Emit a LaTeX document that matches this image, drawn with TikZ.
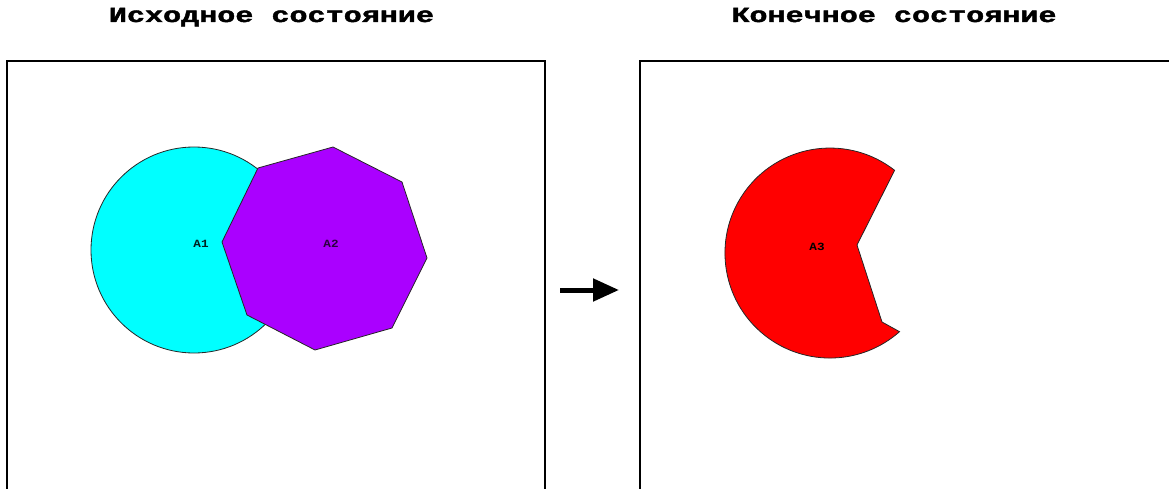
\documentclass[tikz,border=0pt]{standalone}
\usepackage{fontspec}
\setmonofont{Liberation Mono}
\newfontfamily\titlefont[FakeStretch=1.4,FakeBold=2]{Liberation Mono Bold}
\newfontfamily\labelfont[FakeStretch=1.15]{Liberation Mono Bold}
\usetikzlibrary{arrows.meta}
\definecolor{acyan}{RGB}{0,255,255}
\definecolor{apurple}{RGB}{170,0,255}
\definecolor{ared}{RGB}{255,0,0}
\begin{document}
\begin{tikzpicture}[x=1pt,y=1pt,
  frame/.style={draw=black,line width=2pt},
  shapeline/.style={draw=black!85,line width=0.8pt},
  title/.style={font=\titlefont\fontsize{21.5}{26}\selectfont,anchor=base,inner sep=0pt},
  lbl/.style={font=\labelfont\fontsize{11}{12}\selectfont,inner sep=0pt}]
\useasboundingbox (0,0) rectangle (1169,488);
\begin{scope}
\clip (0,0) rectangle (1169,488);
% frames
\draw[frame] (7,-10) -- (7,427) -- (545,427) -- (545,-10);
\draw[frame] (640,-10) -- (640,427) -- (1180,427);
% initial state
\path[shapeline,fill=acyan] (194,238) circle[radius=103];
\path[shapeline,fill=apurple] (333,341) -- (402,306) -- (427,230) -- (392,160) -- (315,138) -- (247,173) -- (222,246) -- (258,320) -- cycle;
\node[lbl,text=black!75!teal] (a1) at (201,244.5) {A1};
\node[lbl,text=black!75!apurple] (a2) at (331,244.5) {A2};
% final state
\path[shapeline,fill=ared] (894.6,317.7) arc[start angle=52,end angle=311.5,radius=105] -- (882,166) -- (857,243) -- cycle;
\node[lbl] (a3) at (817,241) {A3};
\end{scope}
% titles
\node[title] (t1) at (271.5,466) {Исходное состояние};
\node[title] (t2) at (894,466) {Конечное состояние};
% arrow
\coordinate (arrS) at (560,198);
\coordinate (arrE) at (619,198);
\draw[line width=5pt,-{Triangle[length=26pt,width=22pt]}] (arrS) -- (arrE);
\end{tikzpicture}
\end{document}
